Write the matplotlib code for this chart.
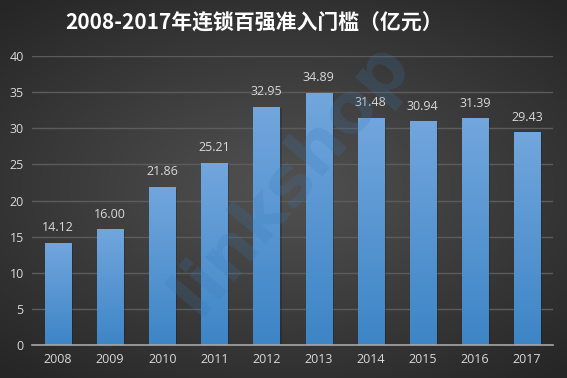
import numpy as np
import matplotlib
matplotlib.use("Agg")
import matplotlib.pyplot as plt
from matplotlib.patches import Rectangle

plt.rcParams['font.family'] = ['Noto Sans CJK SC', 'DejaVu Sans']

years = ['2008', '2009', '2010', '2011', '2012', '2013', '2014', '2015', '2016', '2017']
values = [14.12, 16.00, 21.86, 25.21, 32.95, 34.89, 31.48, 30.94, 31.39, 29.43]
title = '2008-2017年连锁百强准入门槛（亿元）'
yticks = [0, 5, 10, 15, 20, 25, 30, 35, 40]

fig = plt.figure(figsize=(5.67, 3.78), dpi=100)

# radial gradient background
bg = fig.add_axes([0, 0, 1, 1], zorder=-10)
yy, xx = np.mgrid[-1:1:300j, -1:1:450j]
r = np.sqrt((xx * 0.9) ** 2 + (yy * 1.0) ** 2)
base = np.clip(0.32 - 0.13 * r, 0.15, 0.33)
img = np.dstack([base, base, base])
bg.imshow(img, aspect='auto', extent=[0, 1, 0, 1], interpolation='bilinear')
bg.axis('off')

ax = fig.add_axes([32 / 567, 1 - 345 / 378, 521 / 567, 289 / 378])
ax.patch.set_alpha(0)

x = np.arange(len(years))
bars = ax.bar(x, values, width=0.5, color='none', zorder=3)

grad = np.linspace(0, 1, 256).reshape(-1, 1)
top = np.array([0x72, 0xa6, 0xdd]) / 255
bot = np.array([0x3d, 0x85, 0xc6]) / 255
gimg = (bot[None, None, :] * (1 - grad[:, :, None]) + top[None, None, :] * grad[:, :, None])
for b in bars:
    x0, w, h = b.get_x(), b.get_width(), b.get_height()
    # shadow
    ax.add_patch(Rectangle((x0 + 0.04, 0), w, h - 0.2, color='black', alpha=0.18, zorder=2, lw=0))
    im = ax.imshow(gimg, extent=[x0, x0 + w, 0, h], origin='lower', aspect='auto', zorder=3)
    im.set_clip_path(b)

for xi, v in zip(x, values):
    ax.text(xi, v + 1.2, f'{v:.2f}', ha='center', va='bottom', color='#d9d9d9', fontsize=9,
            family=['Open Sans', 'DejaVu Sans'], zorder=5)

ax.set_xlim(-0.5, len(years) - 0.5)
ax.set_ylim(0, 40)
ax.set_yticks(yticks)
ax.set_xticks(x)
ax.set_xticklabels(years)
ax.tick_params(axis='both', length=0, colors='#d9d9d9', labelsize=9)
ax.tick_params(axis='x', pad=6)
ax.tick_params(axis='y', pad=6)
for lab in ax.get_xticklabels() + ax.get_yticklabels():
    lab.set_family(['Open Sans', 'DejaVu Sans'])
ax.yaxis.grid(True, color='#5c5c5c', lw=1, zorder=0)
ax.set_axisbelow(True)
for s in ['top', 'right', 'left']:
    ax.spines[s].set_visible(False)
ax.spines['bottom'].set_color('#a6a6a6')
ax.spines['bottom'].set_linewidth(1.2)
ax.spines['bottom'].set_zorder(6)

fig.text(254 / 567, 1 - 23 / 378, title, ha='center', va='center', color='white', fontsize=15,
         fontweight='bold')

# watermark
fig.text(290 / 567, 1 - 178 / 378, 'linkshop', rotation=50, fontsize=50, fontweight='bold',
         color='#3a7ab5', alpha=0.2, ha='center', va='center', family=['DejaVu Sans'], zorder=10)

fig.savefig('out.png', dpi=100)
